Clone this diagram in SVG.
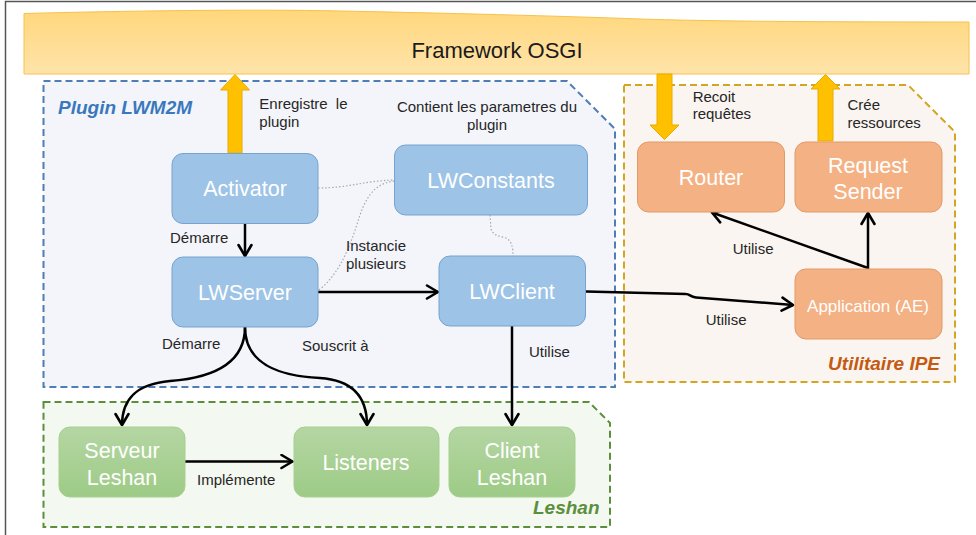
<svg xmlns="http://www.w3.org/2000/svg" width="976" height="535" viewBox="0 0 976 535">
<style>
text{font-family:"Liberation Sans",Arial,sans-serif}
.lbl{font-size:15px;fill:#262626}
.nt{font-size:21.5px;fill:#ffffff;text-anchor:middle}
.bn rect{fill:#9dc3e6;stroke:#76a3cf;stroke-width:1}
.on rect{fill:#f4b183;stroke:#e39a67;stroke-width:1}
.gn rect{fill:url(#gg);stroke:#a6d08f;stroke-width:1}
.grp{stroke-width:2;stroke-dasharray:7,4}
.ttl{font-size:19px;font-weight:bold;font-style:italic}
.c{fill:none;stroke:#000;stroke-width:2.5;marker-end:url(#ah)}
.d{fill:none;stroke:#a8a8a8;stroke-width:1.2;stroke-dasharray:1.5,2}
.ya{fill:#ffc000;stroke:#e8ac00;stroke-width:1}
</style>
<defs>
<linearGradient id="bg" x1="0" y1="0" x2="0" y2="1">
<stop offset="0" stop-color="#ffd77c"/>
<stop offset="1" stop-color="#ffe3aa"/>
</linearGradient>
<linearGradient id="gg" x1="0" y1="0" x2="0" y2="1">
<stop offset="0" stop-color="#b5d6a3"/>
<stop offset="1" stop-color="#9dcb86"/>
</linearGradient>
<marker id="ah" markerUnits="userSpaceOnUse" markerWidth="16" markerHeight="16" viewBox="0 0 16 16" refX="13" refY="8" orient="auto">
<path d="M2,1.5 L13,8 L2,14.5" fill="none" stroke="#000" stroke-width="2.6" stroke-linejoin="round" stroke-linecap="round"/>
</marker>
</defs>
<rect x="0" y="0" width="976" height="535" fill="#ffffff"/>
<path d="M5.5,535 L5.5,1.5 L976,1.5" fill="none" stroke="#555" stroke-width="1.5"/>

<g id="framework">
<path d="M24,13.5 C120,11 250,9 340,11 C440,13 560,16 640,19 C700,21 800,22 969,22 L969,74 L24,74 Z" fill="url(#bg)" stroke="#f5c24a" stroke-width="1"/>
<text x="497" y="58" font-size="22" fill="#1a1a1a" text-anchor="middle">Framework OSGI</text>
</g>

<g id="plugin-lwm2m">
<path class="grp" d="M43.5,81 L567,81 L615,129 L615,387 L43.5,387 Z" fill="#f3f5fa" stroke="#4f7db5"/>
<text class="ttl" x="58" y="113.5" fill="#3a78bd">Plugin LWM2M</text>
</g>
<g id="utilitaire-ipe">
<path class="grp" d="M624,85 L908,85 L955,132 L955,382 L624,382 Z" fill="#faf5f1" stroke="#d4a520"/>
<text class="ttl" x="940" y="370" fill="#c55a11" text-anchor="end">Utilitaire IPE</text>
</g>
<g id="leshan">
<path class="grp" d="M43.5,402 L589,402 L610,423 L610,527 L43.5,527 Z" fill="#f3f8f0" stroke="#5b8f3c"/>
<text class="ttl" x="599.5" y="513.5" fill="#5b8f3c" text-anchor="end">Leshan</text>
</g>

<g id="osgi-arrows">
<polygon class="ya" points="235,74.5 249.5,90 242,90 242,153 228,153 228,90 220.5,90"/>
<polygon class="ya" points="657,74 672,74 672,125 679,125 664.5,139.5 650,125 657,125"/>
<polygon class="ya" points="825.5,74.5 840,89 833,89 833,141 818,141 818,89 811,89"/>
</g>

<g id="connectors">
<path class="d" d="M318,188 C350,188 362,181 394.5,180"/>
<path class="d" d="M319,290 C342,272 352,240 360,215 C368,192 378,183 394.5,181"/>
<path class="d" d="M490,215 L491,229 C493,236 500,236 506,238 C512,241 513,248 513,256"/>
<path class="c" d="M245,224 L245,256"/>
<path class="c" d="M318,292 L438,292"/>
<path class="c" d="M245,327 C245,365 210,378 170,381 C135,384 122,400 122,425"/>
<path class="c" d="M245,327 C245,365 280,376 320,378 C350,380 367,395 367,425"/>
<path class="c" d="M512,326 L512,425"/>
<path class="c" d="M185,461.5 L292.5,461.5"/>
<path class="c" d="M586,291.5 L686,294 C690,294 690,297 696,297.5 L793,305"/>
<path class="c" d="M868,269 L868,213"/>
<path class="c" d="M868,268 L712,212.5"/>
</g>

<g id="labels">
<text class="lbl" x="259.3" y="109">Enregistre<tspan dx="4"> le</tspan></text>
<text class="lbl" x="259.3" y="127">plugin</text>
<text class="lbl" x="487" y="112" text-anchor="middle">Contient les parametres du</text>
<text class="lbl" x="487" y="130" text-anchor="middle">plugin</text>
<text class="lbl" x="692.7" y="101.5">Recoit</text>
<text class="lbl" x="692.7" y="119">requêtes</text>
<text class="lbl" x="847.5" y="110">Crée</text>
<text class="lbl" x="847.5" y="128">ressources</text>
<text class="lbl" x="170" y="242.5">Démarre</text>
<text class="lbl" x="346" y="251">Instancie</text>
<text class="lbl" x="346" y="269">plusieurs</text>
<text class="lbl" x="162" y="348.5">Démarre</text>
<text class="lbl" x="302" y="350.5">Souscrit à</text>
<text class="lbl" x="529" y="357">Utilise</text>
<text class="lbl" x="197" y="484.5">Implémente</text>
<text class="lbl" x="732.7" y="254">Utilise</text>
<text class="lbl" x="705.7" y="325">Utilise</text>
</g>

<g id="activator" class="bn"><rect x="172" y="153.5" width="146" height="70" rx="11"/><text class="nt" x="245" y="196">Activator</text></g>
<g id="lwserver" class="bn"><rect x="172" y="257" width="146" height="70" rx="11"/><text class="nt" x="245" y="299.5">LWServer</text></g>
<g id="lwconstants" class="bn"><rect x="394.5" y="145" width="193" height="70" rx="11"/><text class="nt" x="491" y="187.5">LWConstants</text></g>
<g id="lwclient" class="bn"><rect x="439" y="256" width="146.5" height="70" rx="11"/><text class="nt" x="512" y="298.5">LWClient</text></g>

<g id="router" class="on"><rect x="637.5" y="142" width="147" height="70" rx="11"/><text class="nt" x="711" y="185">Router</text></g>
<g id="request-sender" class="on"><rect x="795" y="142" width="147" height="70" rx="11"/><text class="nt" x="868" y="173">Request</text><text class="nt" x="868" y="199">Sender</text></g>
<g id="application" class="on"><rect x="795" y="269" width="147" height="70" rx="11"/><text class="nt" x="868" y="311.5" style="font-size:17px">Application (AE)</text></g>

<g id="serveur-leshan" class="gn"><rect x="59" y="427" width="126" height="70" rx="11"/><text class="nt" x="122" y="457.5">Serveur</text><text class="nt" x="122" y="484.5">Leshan</text></g>
<g id="listeners" class="gn"><rect x="294" y="427" width="145" height="70" rx="11"/><text class="nt" x="366" y="470">Listeners</text></g>
<g id="client-leshan" class="gn"><rect x="449" y="427" width="126" height="70" rx="11"/><text class="nt" x="512" y="457.5">Client</text><text class="nt" x="512" y="484.5">Leshan</text></g>
</svg>
